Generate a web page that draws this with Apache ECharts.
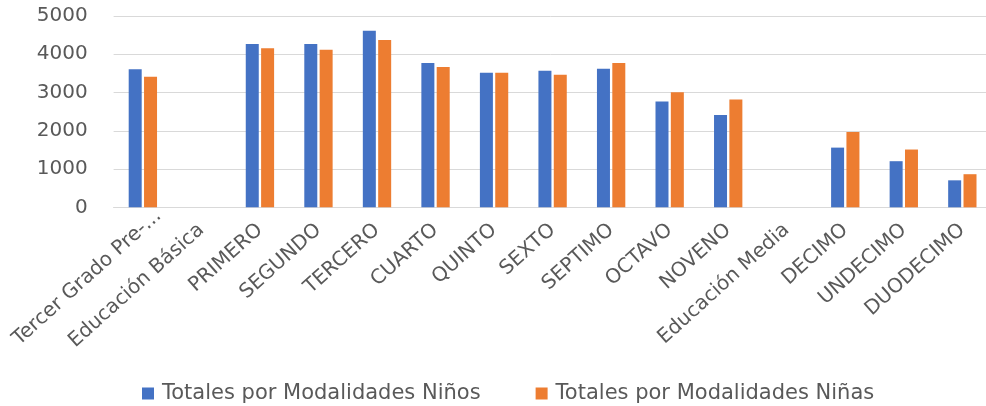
<!DOCTYPE html>
<html>
<head>
<meta charset="utf-8">
<script src="https://cdn.jsdelivr.net/npm/echarts@6/dist/echarts.min.js"></script>
<style>
html,body{margin:0;padding:0;background:#fff;}
#c{width:986px;height:406px;}
</style>
</head>
<body>
<div id="c"></div>
<script>
const categories = ["Tercer Grado Pre-...", "Educación Básica", "PRIMERO", "SEGUNDO", "TERCERO", "CUARTO", "QUINTO", "SEXTO", "SEPTIMO", "OCTAVO", "NOVENO", "Educación Media", "DECIMO", "UNDECIMO", "DUODECIMO"];
const ninos = [3610, null, 4265, 4265, 4615, 3770, 3515, 3570, 3620, 2765, 2410, null, 1560, 1205, 705];
const ninas = [3410, null, 4160, 4120, 4370, 3665, 3515, 3465, 3770, 3010, 2815, null, 1965, 1510, 865];
const yTicks = [0, 1000, 2000, 3000, 4000, 5000];
const seriesNames = ["Totales por Modalidades Niños", "Totales por Modalidades Niñas"];

// first label is pushed inward (as the original does to keep it inside the chart)
const catData = categories.map((c, i) => i === 0 ? {value: c, textStyle: {padding: [0, -21, 0, 0]}} : c);

const chart = echarts.init(document.getElementById('c'));
chart.setOption({
  animation: false,
  grid: {left: 113.6, width: 878, top: 16, height: 191.3, containLabel: false, outerBoundsMode: 'none'},
  legend: {
    top: 378, left: 137,
    itemWidth: 12, itemHeight: 12, itemGap: 55,
    icon: 'rect',
    textStyle: {color: '#595959', fontSize: 21, fontFamily: 'DejaVu Sans', padding: [0, 0, 0, 3]},
    data: seriesNames
  },
  xAxis: {
    type: 'category', data: catData,
    axisLine: {lineStyle: {color: '#d9d9d9', width: 1}},
    axisTick: {show: false},
    axisLabel: {rotate: 42, interval: 0, color: '#595959', fontSize: 20, fontFamily: 'DejaVu Sans', margin: 20}
  },
  yAxis: {
    type: 'value', min: yTicks[0], max: yTicks[yTicks.length - 1], interval: 1000,
    axisLine: {show: false}, axisTick: {show: false},
    splitLine: {lineStyle: {color: '#d9d9d9', width: 1}},
    axisLabel: {color: '#595959', fontSize: 20, fontFamily: 'DejaVu Sans', margin: 26, formatter: v => String(v)}
  },
  series: [
    {name: seriesNames[0], type: 'bar', data: ninos, itemStyle: {color: '#4472C4'}, barWidth: 13, barGap: '18%'},
    {name: seriesNames[1], type: 'bar', data: ninas, itemStyle: {color: '#ED7D31'}, barWidth: 13}
  ]
});
</script>
</body>
</html>
